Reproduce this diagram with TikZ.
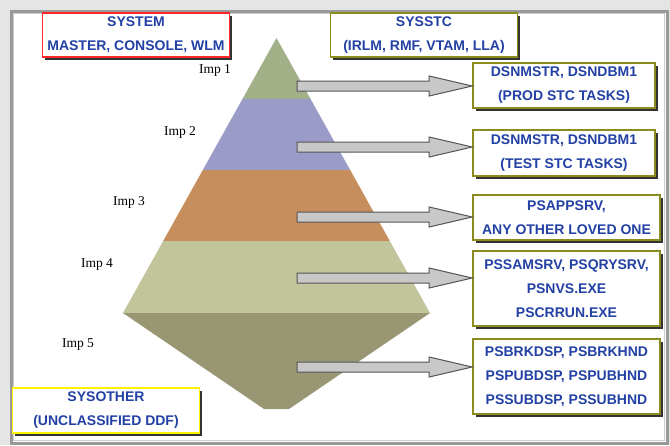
\documentclass[tikz,border=0pt]{standalone}
\usepackage{fontspec}
\setmainfont{Liberation Serif}
\newfontfamily\boxfont{Liberation Sans}
\usetikzlibrary{calc,shadows}
\definecolor{txtblue}{RGB}{35,65,165}
\definecolor{olivebd}{RGB}{140,140,30}
\definecolor{bandA}{RGB}{162,176,136}
\definecolor{bandB}{RGB}{155,155,200}
\definecolor{bandC}{RGB}{198,142,92}
\definecolor{bandD}{RGB}{194,196,156}
\definecolor{bandE}{RGB}{152,150,115}
\definecolor{arrfill}{RGB}{200,200,200}
\definecolor{arrline}{RGB}{85,85,85}
\tikzset{
  infobox/.style={draw=olivebd, line width=1.6pt, fill=white, align=center,
    text=txtblue, font=\boxfont\fontsize{14}{24}\selectfont\bfseries,
    inner sep=0pt, minimum width=187pt,
    drop shadow={shadow xshift=2.5pt, shadow yshift=-2.5pt, fill=black!80, opacity=1}},
  implabel/.style={font=\fontsize{13.5}{16}\selectfont, text=black, inner sep=0pt},
  blockarr/.style={fill=arrfill, draw=arrline, line width=1pt, line join=miter}
}
\newcommand\blockarrow[2]{%
  \path[blockarr] let \p1=(#1), \p2=(#2) in
    (\x1,{\y1+5pt}) -- ({\x2-43pt},{\y1+5pt}) -- ({\x2-43pt},{\y1+10pt}) -- (\x2,\y1)
    -- ({\x2-43pt},{\y1-10pt}) -- ({\x2-43pt},{\y1-5pt}) -- (\x1,{\y1-5pt}) -- cycle;}
\begin{document}
\begin{tikzpicture}[x=1pt,y=-1pt]
\useasboundingbox (0,0) rectangle (670,445);
\fill[black!10] (0,0) rectangle (670,445);
\fill[white] (12,12) rectangle (666,442);
\draw[line width=3pt, black!40] (11,11) rectangle (667,443);
\draw[line width=1pt, black!20] (13.5,13.5) rectangle (664.5,440.5);
% pyramid
\coordinate (apex) at (276.5,38);
\coordinate (L) at (123,313);
\coordinate (R) at (430,313);
\coordinate (L1) at ($(apex)!0.2218!(L)$); \coordinate (R1) at ($(apex)!0.2218!(R)$);
\coordinate (L2) at ($(apex)!0.48!(L)$);   \coordinate (R2) at ($(apex)!0.48!(R)$);
\coordinate (L3) at ($(apex)!0.7382!(L)$); \coordinate (R3) at ($(apex)!0.7382!(R)$);
\fill[bandA] (apex) -- (R1) -- (L1) -- cycle;
\fill[bandB] (L1) -- (R1) -- (R2) -- (L2) -- cycle;
\fill[bandC] (L2) -- (R2) -- (R3) -- (L3) -- cycle;
\fill[bandD] (L3) -- (R3) -- (R) -- (L) -- cycle;
\fill[bandE] (L) -- (R) -- (289,409) -- (264,409) -- cycle;
% labels
\node[implabel] (i1) at (215,70) {Imp 1};
\node[implabel] (i2) at (180,132) {Imp 2};
\node[implabel] (i3) at (129,202) {Imp 3};
\node[implabel] (i4) at (97,264) {Imp 4};
\node[implabel] (i5) at (78,345) {Imp 5};
% top/bottom boxes
\node[infobox, draw=red!85, minimum height=44pt] (sys) at (136,35) {SYSTEM\\MASTER, CONSOLE, WLM};
\node[infobox, minimum height=44pt] (stc) at (424,35) {SYSSTC\\(IRLM, RMF, VTAM, LLA)};
\node[infobox, draw=yellow, minimum height=45pt] (oth) at (106,410.5) {SYSOTHER\\(UNCLASSIFIED DDF)};
% right boxes
\node[infobox, minimum width=182pt, minimum height=45pt] (b1) at (564,85.5) {DSNMSTR, DSNDBM1\\(PROD STC TASKS)};
\node[infobox, minimum width=182pt, minimum height=46pt] (b2) at (564,153) {DSNMSTR, DSNDBM1\\(TEST STC TASKS)};
\node[infobox, minimum height=45pt] (b3) at (566.5,217.5) {PSAPPSRV,\\ANY OTHER LOVED ONE};
\node[infobox, minimum height=75pt] (b4) at (566.5,288.5) {PSSAMSRV, PSQRYSRV,\\PSNVS.EXE\\PSCRRUN.EXE};
\node[infobox, minimum height=75pt] (b5) at (566.5,376.5) {PSBRKDSP, PSBRKHND\\PSPUBDSP, PSPUBHND\\PSSUBDSP, PSSUBHND};
% arrows
\coordinate (a1) at (297,86);
\coordinate (a2) at (297,147);
\coordinate (a3) at (297,217);
\coordinate (a4) at (297,278);
\coordinate (a5) at (297,367);
\blockarrow{a1}{b1.west}
\blockarrow{a2}{b2.west}
\blockarrow{a3}{b3.west}
\blockarrow{a4}{b4.west}
\blockarrow{a5}{b5.west}
\end{tikzpicture}
\end{document}
